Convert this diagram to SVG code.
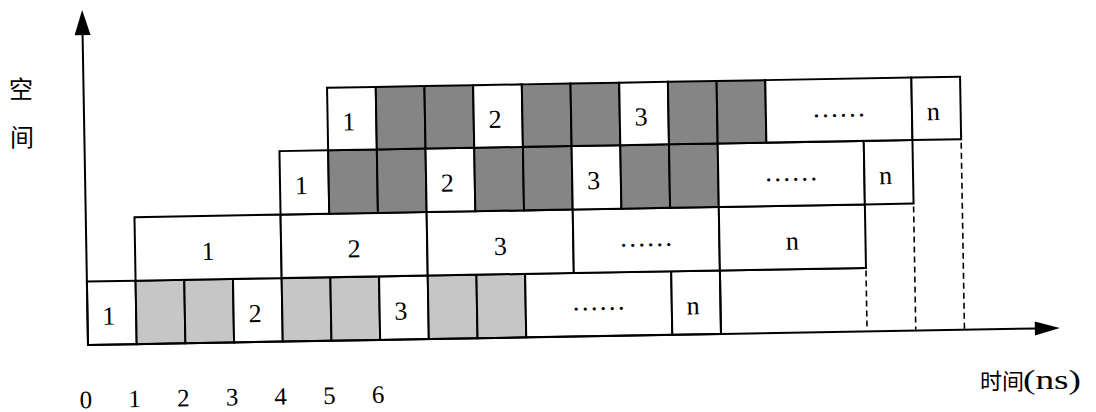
<svg xmlns="http://www.w3.org/2000/svg" width="1096" height="412" viewBox="0 0 1096 412">
<style>
.c{fill:#fff;stroke:#000;stroke-width:2}
.l{fill:#c6c6c6;stroke:#000;stroke-width:2}
.d{fill:#858585;stroke:#000;stroke-width:2}
.t{font-family:"Liberation Serif","Times New Roman",serif;font-size:26px;fill:#000;text-anchor:middle}
.dots{font-family:"Liberation Serif","Times New Roman",serif;font-size:27px;fill:#000;text-anchor:middle}
.ax{font-family:"Liberation Serif","Times New Roman",serif;font-size:25px;fill:#000;text-anchor:middle}
.cjk{font-family:"Noto Sans CJK SC",sans-serif;fill:#000}
.axis{stroke:#000;stroke-width:2;fill:none}
.dash{stroke:#000;stroke-width:1.6;fill:none;stroke-dasharray:6 4}
</style>
<rect width="1096" height="412" fill="#fff"/>
<g transform="rotate(-1 88 345)">
<g id="row1">
<g id="r1c1"><rect class="c" x="88" y="281.5" width="48.7" height="63.5"/><text class="t" x="109.3" y="325">1</text></g>
<g id="r1s1"><rect class="l" x="136.7" y="281.5" width="48.7" height="63.5"/></g>
<g id="r1s2"><rect class="l" x="185.4" y="281.5" width="48.7" height="63.5"/></g>
<g id="r1c2"><rect class="c" x="234.1" y="281.5" width="48.7" height="63.5"/><text class="t" x="255.5" y="325">2</text></g>
<g id="r1s3"><rect class="l" x="282.8" y="281.5" width="48.7" height="63.5"/></g>
<g id="r1s4"><rect class="l" x="331.5" y="281.5" width="48.7" height="63.5"/></g>
<g id="r1c3"><rect class="c" x="380.2" y="281.5" width="48.7" height="63.5"/><text class="t" x="401.5" y="325">3</text></g>
<g id="r1s5"><rect class="l" x="428.9" y="281.5" width="48.7" height="63.5"/></g>
<g id="r1s6"><rect class="l" x="477.6" y="281.5" width="48.7" height="63.5"/></g>
<g id="r1dots"><rect class="c" x="526.3" y="281.5" width="146.1" height="63.5"/><text class="dots" x="599.3" y="319">……</text></g>
<g id="r1cn"><rect class="c" x="672.4" y="281.5" width="48.7" height="63.5"/><text class="t" x="693.7" y="325">n</text></g>
<g id="r1empty"><path class="axis" d="M721.1 281.5H867.2M721.1 281.5V345"/></g>
</g>
<g id="row2">
<g id="r2c1"><rect class="c" x="136.7" y="218" width="146.1" height="63.5"/><text class="t" x="209.7" y="262">1</text></g>
<g id="r2c2"><rect class="c" x="282.8" y="218" width="146.1" height="63.5"/><text class="t" x="355.8" y="262">2</text></g>
<g id="r2c3"><rect class="c" x="428.9" y="218" width="146.1" height="63.5"/><text class="t" x="502" y="262">3</text></g>
<g id="r2dots"><rect class="c" x="575" y="218" width="146.1" height="63.5"/><text class="dots" x="648" y="256">……</text></g>
<g id="r2cn"><rect class="c" x="721.1" y="218" width="146.1" height="63.5"/><text class="t" x="794.1" y="262">n</text></g>
</g>
<g id="row3">
<g id="r3c1"><rect class="c" x="282.8" y="154.5" width="48.7" height="63.5"/><text class="t" x="304.1" y="198">1</text></g>
<g id="r3s1"><rect class="d" x="331.5" y="154.5" width="48.7" height="63.5"/></g>
<g id="r3s2"><rect class="d" x="380.2" y="154.5" width="48.7" height="63.5"/></g>
<g id="r3c2"><rect class="c" x="428.9" y="154.5" width="48.7" height="63.5"/><text class="t" x="450.2" y="198">2</text></g>
<g id="r3s3"><rect class="d" x="477.6" y="154.5" width="48.7" height="63.5"/></g>
<g id="r3s4"><rect class="d" x="526.3" y="154.5" width="48.7" height="63.5"/></g>
<g id="r3c3"><rect class="c" x="575" y="154.5" width="48.7" height="63.5"/><text class="t" x="596.3" y="198">3</text></g>
<g id="r3s5"><rect class="d" x="623.7" y="154.5" width="48.7" height="63.5"/></g>
<g id="r3s6"><rect class="d" x="672.4" y="154.5" width="48.7" height="63.5"/></g>
<g id="r3dots"><rect class="c" x="721.1" y="154.5" width="146.1" height="63.5"/><text class="dots" x="794.1" y="193">……</text></g>
<g id="r3cn"><rect class="c" x="867.2" y="154.5" width="48.7" height="63.5"/><text class="t" x="888.5" y="198">n</text></g>
</g>
<g id="row4">
<g id="r4c1"><rect class="c" x="331.5" y="92" width="48.7" height="62.5"/><text class="t" x="352.8" y="135">1</text></g>
<g id="r4s1"><rect class="d" x="380.2" y="92" width="48.7" height="62.5"/></g>
<g id="r4s2"><rect class="d" x="428.9" y="92" width="48.7" height="62.5"/></g>
<g id="r4c2"><rect class="c" x="477.6" y="92" width="48.7" height="62.5"/><text class="t" x="498.9" y="135">2</text></g>
<g id="r4s3"><rect class="d" x="526.3" y="92" width="48.7" height="62.5"/></g>
<g id="r4s4"><rect class="d" x="575" y="92" width="48.7" height="62.5"/></g>
<g id="r4c3"><rect class="c" x="623.7" y="92" width="48.7" height="62.5"/><text class="t" x="645" y="135">3</text></g>
<g id="r4s5"><rect class="d" x="672.4" y="92" width="48.7" height="62.5"/></g>
<g id="r4s6"><rect class="d" x="721.1" y="92" width="48.7" height="62.5"/></g>
<g id="r4dots"><rect class="c" x="769.8" y="92" width="146.1" height="62.5"/><text class="dots" x="842.8" y="130">……</text></g>
<g id="r4cn"><rect class="c" x="915.9" y="92" width="48.7" height="62.5"/><text class="t" x="937.2" y="135">n</text></g>
</g>
<g id="connectors">
<path class="axis" d="M88 345V34"/>
<polygon points="88,10 80,35 96,35" fill="#000"/>
<path class="axis" d="M88 345H1036"/>
<polygon points="1060,345 1035,338 1035,352" fill="#000"/>
<path class="dash" d="M867.2 284V344M915.9 221V344M964.6 158V344"/>
</g>
<g id="ticks">
<text class="ax" x="85" y="408">0</text>
<text class="ax" x="133.7" y="408">1</text>
<text class="ax" x="182.4" y="408">2</text>
<text class="ax" x="231.1" y="408">3</text>
<text class="ax" x="279.8" y="408">4</text>
<text class="ax" x="328.5" y="408">5</text>
<text class="ax" x="377.2" y="408">6</text>
</g>
</g>
<g id="ylabel">
<text class="cjk" x="21" y="98" font-size="24" text-anchor="middle">空</text>
<text class="cjk" x="22" y="146" font-size="24" text-anchor="middle">间</text>
</g>
<g id="xlabel">
<text class="cjk" x="980" y="389" font-size="22">时间</text>
<text x="1023" y="389" font-family="Liberation Serif,serif" font-size="27" textLength="58" lengthAdjust="spacingAndGlyphs">(ns)</text>
</g>
</svg>
